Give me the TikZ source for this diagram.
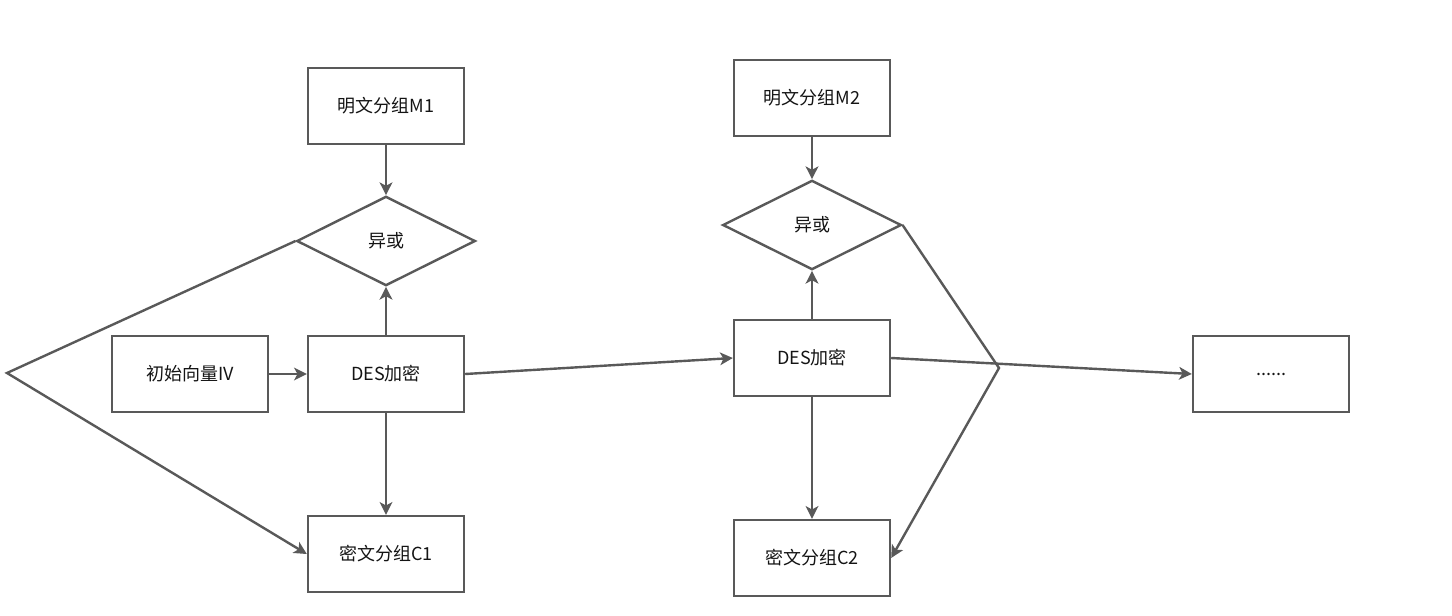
\documentclass[tikz,border=0pt]{standalone}
\usepackage{fontspec}
\setmainfont{Noto Sans CJK SC}
\usetikzlibrary{shapes.geometric,arrows.meta}
\definecolor{ln}{RGB}{89,89,89}
\definecolor{tx}{RGB}{20,20,20}
\begin{document}
\begin{tikzpicture}[x=0.75pt,y=-0.75pt,
  box/.style={draw=ln,line width=1.8pt,rectangle,minimum width=117pt,minimum height=57pt,inner sep=0pt,text=tx,font=\fontsize{13.5pt}{16pt}\selectfont},
  dia/.style={draw=ln,line width=1.8pt,diamond,minimum width=134pt,minimum height=67pt,inner sep=0pt,text=tx,font=\fontsize{13.5pt}{16pt}\selectfont},
  arr/.style={draw=ln,line width=1.8pt,-{Stealth[length=9.5pt,width=9.5pt,inset=2.5pt]}}]
\useasboundingbox (0,0) rectangle (1452,615);
\node[box] (M1) at (386,106) {明文分组M1};
\node[dia] (X1) at (386,241) {异或};
\node[box] (IV) at (190,374) {初始向量IV};
\node[box] (D1) at (386,374) {DES加密};
\node[box] (C1) at (386,554) {密文分组C1};
\node[box] (M2) at (812,98) {明文分组M2};
\node[dia] (X2) at (812,225) {异或};
\node[box] (D2) at (812,358) {DES加密};
\node[box] (C2) at (812,558) {密文分组C2};
\node[box] (E) at (1271,374) {......};
\coordinate (k1) at (7,373);
\coordinate (k2) at (999,368);
\draw[arr] (M1) -- (X1);
\draw[arr] (D1) -- (X1);
\draw[arr] (IV) -- (D1);
\draw[arr] (D1) -- (C1);
\draw[arr] (X1.west) -- (k1) -- (C1.west);
\draw[arr] (D1.east) -- (D2.west);
\draw[arr] (M2) -- (X2);
\draw[arr] (D2) -- (X2);
\draw[arr] (D2) -- (C2);
\draw[arr] (D2.east) -- (E.west);
\draw[arr] (X2.east) -- (k2) -- (C2.east);
\end{tikzpicture}
\end{document}
